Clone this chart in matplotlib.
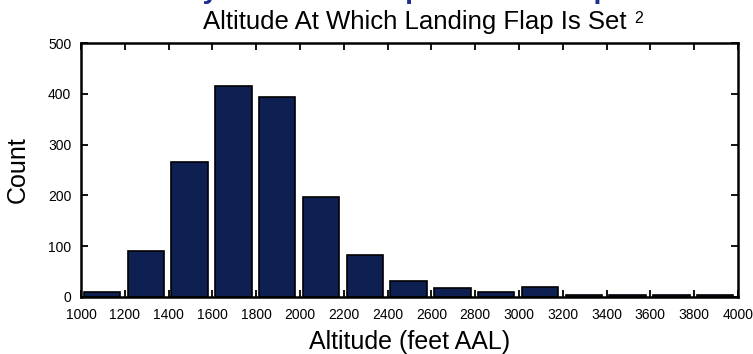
import matplotlib
matplotlib.use('Agg')
from matplotlib import pyplot as plt

plt.rcParams['font.family'] = ['Liberation Sans', 'DejaVu Sans']

# bin starts (feet AAL) and counts per 200 ft bin
bin_starts = [1000, 1200, 1400, 1600, 1800, 2000, 2200, 2400,
              2600, 2800, 3000, 3200, 3400, 3600, 3800]
counts = [10, 90, 266, 416, 394, 196, 82, 30, 17, 10, 20, 3, 3, 3, 3]
x_ticks = list(range(1000, 4001, 200))
y_ticks = [0, 100, 200, 300, 400, 500]

bar_color = '#0e1f52'

fig = plt.figure(figsize=(7.53, 3.54), dpi=100)
ax = fig.add_axes([0.1076, 0.1619, 0.8724, 0.7158])

lefts = [b + 13 for b in bin_starts]
ax.bar(lefts, counts, width=166, align='edge', color=bar_color,
       edgecolor='black', linewidth=1.2, zorder=2)

ax.set_xlim(1000, 4000)
ax.set_ylim(0, 500)
ax.set_xticks(x_ticks)
ax.set_yticks(y_ticks)

for s in ax.spines.values():
    s.set_linewidth(1.8)

ax.tick_params(axis='both', direction='in', length=5, width=1.3,
               top=True, right=True, labelsize=10, colors='black')
ax.tick_params(axis='x', pad=8)
ax.tick_params(axis='y', pad=7)

ax.set_xlabel('Altitude (feet AAL)', fontsize=18, labelpad=6)
ax.set_ylabel('Count', fontsize=18, labelpad=13)

# main heading sits mostly above the top edge
fig.text(182 / 753, 1 + 1.5 / 354, 'Dynamics Of Flap Motion Setup',
         fontsize=20.5, fontweight='bold', color='#1f2f8f',
         ha='left', va='baseline')

fig.text(203 / 753, 1 - 28.5 / 354, 'Altitude At Which Landing Flap Is Set',
         fontsize=18.5, ha='left', va='baseline')
fig.text(634 / 753, 1 - 23 / 354, '2', fontsize=11.5, ha='left', va='baseline')

plt.savefig('out.png', dpi=100)
